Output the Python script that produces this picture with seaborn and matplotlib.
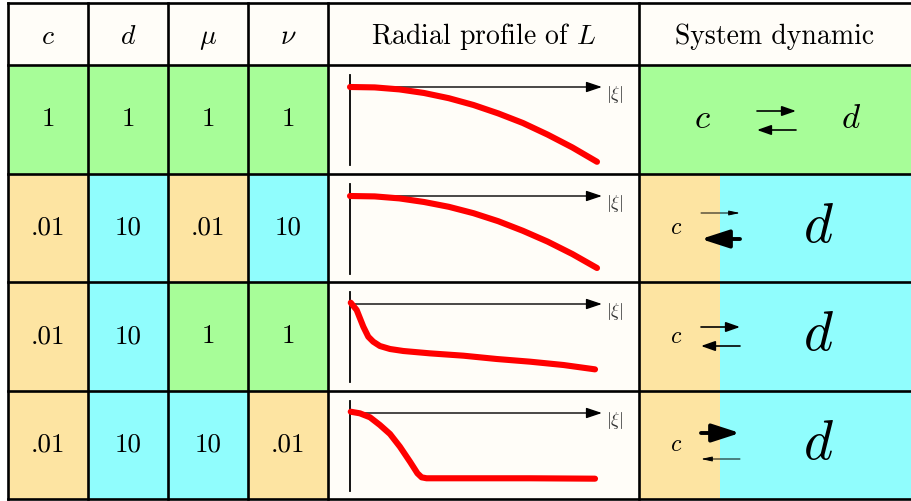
import numpy as np
import pandas as pd
import matplotlib
matplotlib.use("Agg")
import matplotlib.pyplot as plt
import seaborn as sns
from matplotlib.colors import ListedColormap
from matplotlib.patches import Rectangle

# ---------------------------------------------------------------
# data
# ---------------------------------------------------------------
c_vals = [1, 0.01, 0.01, 0.01]
d_vals = [1, 10, 10, 10]
mu_vals = [1, 0.01, 1, 10]
nu_vals = [1, 10, 1, 0.01]

header_labels = ["$c$", "$d$", r"$\mu$", r"$\nu$", "Radial profile of $L$", "System dynamic"]

# radial profiles of L (|xi| scaled to [0,1], L = 1 at the axis arrow)
xi_1 = [0.0, 0.1, 0.2, 0.3, 0.4, 0.5, 0.6, 0.7, 0.8, 0.9, 1.0]
L_1 = [1.0, 0.995, 0.97, 0.925, 0.86, 0.775, 0.67, 0.55, 0.405, 0.245, 0.065]
xi_2 = [0.0, 0.1, 0.2, 0.3, 0.4, 0.5, 0.6, 0.7, 0.8, 0.9, 1.0]
L_2 = [1.0, 0.995, 0.97, 0.925, 0.865, 0.785, 0.685, 0.565, 0.43, 0.275, 0.10]
xi_3 = [0.003, 0.027, 0.054, 0.074, 0.094, 0.121, 0.162, 0.216, 0.324, 0.459,
        0.594, 0.729, 0.864, 0.992]
L_3 = [1.016, 0.925, 0.716, 0.591, 0.529, 0.475, 0.4375, 0.4125, 0.383, 0.354,
       0.3125, 0.279, 0.2375, 0.183]
xi_4 = [0.003, 0.040, 0.081, 0.121, 0.162, 0.202, 0.243, 0.273, 0.290, 0.310,
        0.459, 0.729, 0.992]
L_4 = [1.016, 0.996, 0.946, 0.85, 0.7375, 0.579, 0.391, 0.246, 0.196, 0.184,
       0.184, 0.184, 0.179]
profiles = [(xi_1, L_1), (xi_2, L_2), (xi_3, L_3), (xi_4, L_4)]

# ---------------------------------------------------------------
# style / layout (pixels of the 911x501 canvas)
# ---------------------------------------------------------------
W, H = 911, 501
ROW_EDGES = [3, 65, 174, 282, 391, 499]
COL_EDGES = [8, 88, 168, 248, 328, 639, 911]
SPLIT_X = 720
ARROW_Y_OFF = 22      # axis arrow below the top of a profile cell
PX_PER_L = 80
XI0_PX, XI1_PX = 350, 597

TAN, GREEN, CYAN = "#fde4a2", "#a7fd98", "#90fdfd"
PAPER = "#fffdf8"
LEVEL_CODE = {0.01: 0, 1: 1, 10: 2}
level_cmap = ListedColormap([TAN, GREEN, CYAN])

# arrow look for a given rate: (line width, head length, head width)
ARROW_STYLE = {0.01: (0.7, 0.65, 0.14), 1: (1.2, 0.85, 0.30), 10: (2.8, 1.7, 0.55)}

c_text_x = [702, 676, 676, 676]
d_text_x = [851, 818, 818, 818]
c_size = {1: 25, 0.01: 17}
d_size = {1: 25, 10: 40}
arrow_x = [(757, 796), (701, 740), (701, 740), (701, 740)]
top_off = [-8.5, -15, -9.5, -12]
bot_off = [10.5, 11, 9.5, 14]

sns.set_style("white")
plt.rcParams["font.family"] = ["cmr10", "DejaVu Serif"]
plt.rcParams["mathtext.fontset"] = "cm"
plt.rcParams["axes.unicode_minus"] = False
plt.rcParams["text.color"] = "black"


def fmt_num(v):
    s = f"{v:g}"
    return s[1:] if s.startswith("0.") else s


def px_axes(fig, x0, y0, x1, y1):
    return fig.add_axes([x0 / W, 1 - y1 / H, (x1 - x0) / W, (y1 - y0) / H])


fig = plt.figure(figsize=(W / 100, H / 100), dpi=100, facecolor="white")

table = pd.DataFrame({"c": c_vals, "d": d_vals, "mu": mu_vals, "nu": nu_vals})
codes = table.apply(lambda s: s.map(LEVEL_CODE))
labels = table.apply(lambda s: s.map(fmt_num))

# numeric columns
ax_num = px_axes(fig, COL_EDGES[0], ROW_EDGES[1], COL_EDGES[4], ROW_EDGES[-1])
sns.heatmap(codes, cmap=level_cmap, vmin=-0.5, vmax=2.5, annot=labels, fmt="",
            cbar=False, ax=ax_num,
            annot_kws={"fontfamily": "cmr10", "fontsize": 19.5, "color": "black"})
ax_num.axis("off")

# system dynamic background: c part and d part
ax_sc = px_axes(fig, COL_EDGES[5], ROW_EDGES[1], SPLIT_X, ROW_EDGES[-1])
sns.heatmap(codes[["c"]], cmap=level_cmap, vmin=-0.5, vmax=2.5, cbar=False, ax=ax_sc)
ax_sc.axis("off")
ax_sd = px_axes(fig, SPLIT_X, ROW_EDGES[1], W, ROW_EDGES[-1])
sns.heatmap(codes[["d"]], cmap=level_cmap, vmin=-0.5, vmax=2.5, cbar=False, ax=ax_sd)
ax_sd.axis("off")

# radial profiles
for r, (xi, L) in enumerate(profiles):
    top, bot = ROW_EDGES[r + 1], ROW_EDGES[r + 2]
    arrow_y = top + ARROW_Y_OFF
    ax = px_axes(fig, COL_EDGES[4], top, COL_EDGES[5], bot)
    ax.set_facecolor(PAPER)
    sns.lineplot(x=xi, y=L, ax=ax, color="#ff0000", linewidth=4.4,
                 solid_capstyle="round", solid_joinstyle="round", zorder=3)
    span = XI1_PX - XI0_PX
    ax.set_xlim((COL_EDGES[4] - XI0_PX) / span, (COL_EDGES[5] - XI0_PX) / span)
    ax.set_ylim(1 - (bot - arrow_y) / PX_PER_L, 1 + (arrow_y - top) / PX_PER_L)
    ax.set_xticks([])
    ax.set_yticks([])
    ax.set_xlabel("")
    ax.set_ylabel("")
    for side in ["top", "right", "bottom"]:
        ax.spines[side].set_visible(False)
    ax.spines["left"].set_position(("data", 0))
    ax.spines["left"].set_bounds(0.03, 1.15)
    ax.spines["left"].set_linewidth(1.3)
    ax.spines["left"].set_color("black")
    ax.annotate("", xy=(1.02, 1), xytext=(0, 1),
                arrowprops=dict(arrowstyle="-|>,head_length=0.95,head_width=0.32",
                                lw=1.0, color="black", mutation_scale=10,
                                shrinkA=0, shrinkB=0), zorder=1)
    ax.text(1.036, 0.91, r"$|\xi|$", fontsize=13, color="#333333",
            ha="left", va="center")

# overlay in pixel coordinates: header, text, arrows, grid
ov = fig.add_axes([0, 0, 1, 1])
ov.set_xlim(0, W)
ov.set_ylim(H, 0)
ov.axis("off")
ov.add_patch(Rectangle((COL_EDGES[0], ROW_EDGES[0]), W - COL_EDGES[0],
                       ROW_EDGES[1] - ROW_EDGES[0], color=PAPER, zorder=0))

for i, lab in enumerate(header_labels):
    cx = (COL_EDGES[i] + COL_EDGES[i + 1]) / 2
    ov.text(cx, 43.5, lab, fontsize=20, ha="center", va="baseline")

for r in range(4):
    cy = (ROW_EDGES[r + 1] + ROW_EDGES[r + 2]) / 2
    ov.text(c_text_x[r], cy, "$c$", fontsize=c_size[c_vals[r]], ha="center", va="center")
    ov.text(d_text_x[r], cy, "$d$", fontsize=d_size[d_vals[r]], ha="center", va="center")
    x0, x1 = arrow_x[r]
    for rate, (xa, xb), off in [(mu_vals[r], (x0, x1), top_off[r]),
                                (nu_vals[r], (x1, x0), bot_off[r])]:
        lw, hl, hw = ARROW_STYLE[rate]
        ov.annotate("", xy=(xb, cy + off), xytext=(xa, cy + off),
                    arrowprops=dict(arrowstyle=f"-|>,head_length={hl},head_width={hw}",
                                    lw=lw, color="black", mutation_scale=10,
                                    shrinkA=0, shrinkB=0))

ov.hlines(ROW_EDGES, COL_EDGES[0], W, color="black", lw=1.9, capstyle="projecting")
ov.vlines(COL_EDGES[:-1], ROW_EDGES[0], ROW_EDGES[-1], color="black", lw=1.9,
          capstyle="projecting")

fig.savefig("out.png", dpi=100, facecolor="white")
